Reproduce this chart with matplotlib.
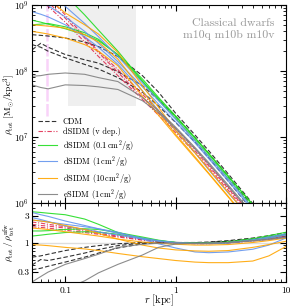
import numpy as np
import matplotlib
matplotlib.use("Agg")
import matplotlib.pyplot as plt
from matplotlib.ticker import FixedLocator, FixedFormatter, LogLocator, NullFormatter

plt.rcParams['font.family'] = ['cmr10', 'DejaVu Serif']
plt.rcParams['mathtext.fontset'] = 'cm'
plt.rcParams['axes.formatter.use_mathtext'] = True
plt.rcParams['axes.unicode_minus'] = False

# radii [kpc]
radius = [0.05, 0.06, 0.07, 0.1, 0.15, 0.2, 0.3, 0.5, 0.7, 1, 1.5, 2, 3, 5, 7, 10]

# top panel: log10 density [Msun/kpc^3], three haloes per model
logrho_cdm = [
    [8.55, 8.54, 8.53, 8.50, 8.44, 8.37, 8.22, 7.93, 7.68, 7.36, 7.03, 6.79, 6.44, 5.99, 5.69, 5.36],
    [8.32, 8.42, 8.36, 8.25, 8.17, 8.12, 7.99, 7.78, 7.56, 7.31, 6.99, 6.75, 6.40, 5.95, 5.65, 5.32],
    [8.40, 8.36, 8.30, 8.20, 8.10, 8.03, 7.90, 7.68, 7.47, 7.22, 6.92, 6.68, 6.33, 5.88, 5.58, 5.25],
]
logrho_vdep = [
    [9.35, 9.22, 9.12, 8.85, 8.52, 8.30, 8.02, 7.65, 7.40, 7.13, 6.82, 6.58, 6.24, 5.80, 5.50, 5.18],
    [9.25, 9.14, 9.04, 8.80, 8.50, 8.28, 7.98, 7.60, 7.36, 7.10, 6.79, 6.56, 6.22, 5.78, 5.48, 5.15],
    [9.20, 9.08, 8.98, 8.74, 8.44, 8.22, 7.93, 7.57, 7.33, 7.07, 6.76, 6.53, 6.19, 5.75, 5.45, 5.12],
]
logrho_d01 = [
    [9.65, 9.50, 9.38, 9.15, 8.85, 8.62, 8.30, 7.85, 7.58, 7.31, 6.98, 6.74, 6.40, 5.98, 5.68, 5.36],
    [8.77, 8.74, 8.71, 8.64, 8.55, 8.46, 8.25, 7.88, 7.60, 7.32, 6.99, 6.75, 6.41, 5.97, 5.67, 5.34],
    [8.70, 8.71, 8.72, 8.67, 8.58, 8.48, 8.24, 7.84, 7.56, 7.28, 6.95, 6.71, 6.37, 5.93, 5.63, 5.30],
]
logrho_d1 = [
    [9.35, 9.25, 9.17, 8.98, 8.72, 8.52, 8.22, 7.82, 7.55, 7.27, 6.94, 6.70, 6.36, 5.92, 5.62, 5.30],
    [9.15, 9.06, 8.99, 8.82, 8.60, 8.42, 8.14, 7.76, 7.50, 7.23, 6.91, 6.67, 6.33, 5.89, 5.59, 5.26],
    [8.90, 8.86, 8.82, 8.70, 8.52, 8.36, 8.10, 7.70, 7.40, 7.10, 6.76, 6.50, 6.15, 5.74, 5.47, 5.18],
]
logrho_d10 = [
    [8.70, 8.69, 8.68, 8.65, 8.55, 8.44, 8.18, 7.70, 7.38, 7.04, 6.70, 6.45, 6.10, 5.66, 5.36, 5.04],
    [9.30, 9.18, 9.10, 8.88, 8.70, 8.56, 8.28, 7.78, 7.45, 7.10, 6.76, 6.51, 6.16, 5.72, 5.42, 5.10],
    [8.60, 8.58, 8.56, 8.50, 8.40, 8.30, 8.08, 7.62, 7.33, 7.02, 6.68, 6.44, 6.09, 5.64, 5.34, 5.02],
]
logrho_e1 = [
    [7.92, 7.93, 7.95, 7.97, 7.95, 7.90, 7.84, 7.60, 7.40, 7.15, 6.84, 6.61, 6.27, 5.84, 5.54, 5.22],
    [7.79, 7.75, 7.73, 7.79, 7.78, 7.76, 7.72, 7.55, 7.37, 7.13, 6.82, 6.59, 6.25, 5.82, 5.52, 5.20],
]

# bottom panel: ratio to NFW fit
ratio_cdm = [
    [0.55, 0.58, 0.62, 0.72, 0.82, 0.88, 0.95, 1.00, 1.00, 1.00, 1.00, 1.02, 1.08, 1.20, 1.32, 1.50],
    [0.40, 0.50, 0.48, 0.55, 0.65, 0.75, 0.88, 0.98, 1.00, 1.00, 0.99, 1.00, 1.05, 1.15, 1.25, 1.40],
    [0.33, 0.35, 0.38, 0.45, 0.55, 0.65, 0.80, 0.95, 1.00, 1.00, 0.99, 1.00, 1.04, 1.12, 1.20, 1.30],
]
ratio_vdep = [
    [2.30, 2.20, 2.10, 1.90, 1.70, 1.55, 1.35, 1.15, 1.05, 1.00, 0.97, 0.97, 1.00, 1.10, 1.20, 1.35],
    [2.10, 2.00, 1.95, 1.80, 1.60, 1.45, 1.30, 1.12, 1.04, 0.98, 0.96, 0.96, 0.99, 1.08, 1.17, 1.30],
    [1.90, 1.85, 1.80, 1.65, 1.50, 1.40, 1.25, 1.10, 1.02, 0.97, 0.95, 0.95, 0.98, 1.06, 1.14, 1.25],
]
ratio_d01 = [
    [3.50, 3.40, 3.30, 3.10, 2.60, 2.10, 1.50, 1.18, 1.06, 1.00, 0.98, 0.98, 1.03, 1.17, 1.32, 1.52],
    [1.60, 1.60, 1.62, 1.70, 1.75, 1.70, 1.50, 1.25, 1.10, 1.00, 0.97, 0.97, 1.00, 1.12, 1.25, 1.42],
    [1.30, 1.35, 1.40, 1.50, 1.55, 1.52, 1.40, 1.20, 1.08, 1.00, 0.97, 0.97, 1.00, 1.10, 1.22, 1.38],
]
ratio_d1 = [
    [3.40, 3.10, 2.90, 2.40, 2.00, 1.75, 1.45, 1.20, 1.08, 1.00, 0.97, 0.97, 1.00, 1.12, 1.25, 1.42],
    [2.76, 2.55, 2.35, 1.95, 1.70, 1.55, 1.35, 1.15, 1.05, 0.98, 0.95, 0.95, 0.98, 1.08, 1.20, 1.35],
    [2.50, 2.40, 2.30, 2.10, 1.90, 1.75, 1.52, 1.15, 0.95, 0.80, 0.68, 0.66, 0.68, 0.76, 0.90, 1.20],
]
ratio_d10 = [
    [2.50, 2.40, 2.30, 2.00, 1.70, 1.45, 1.15, 0.90, 0.80, 0.74, 0.71, 0.70, 0.72, 0.82, 0.92, 1.05],
    [0.92, 0.90, 0.88, 0.82, 0.77, 0.72, 0.64, 0.56, 0.52, 0.48, 0.45, 0.44, 0.44, 0.47, 0.58, 0.85],
    [1.80, 1.75, 1.70, 1.55, 1.40, 1.30, 1.15, 1.02, 0.97, 0.93, 0.90, 0.90, 0.92, 1.00, 1.08, 1.20],
]
ratio_e1 = [
    [0.20, 0.25, 0.30, 0.41, 0.52, 0.62, 0.82, 0.93, 0.97, 0.98, 0.97, 0.97, 1.00, 1.08, 1.15, 1.25],
    [0.10, 0.11, 0.12, 0.15, 0.21, 0.29, 0.41, 0.60, 0.82, 0.94, 0.97, 0.97, 1.00, 1.07, 1.13, 1.23],
]

labels = ['CDM', 'dSIDM (v dep.)', r'dSIDM (0.1$\,$cm$^2$/g)', r'dSIDM (1$\,$cm$^2$/g)',
          r'dSIDM (10$\,$cm$^2$/g)', r'eSIDM (1$\,$cm$^2$/g)']
colors = ['black', 'crimson', '#22dd22', 'cornflowerblue', 'orange', 'grey']
styles = [(0, (4, 2)), (0, (4, 1.5, 1, 1.5)), '-', '-', '-', '-']
alphas = [0.8, 0.8, 0.9, 0.9, 0.9, 0.9]

top_sets = [logrho_cdm, logrho_vdep, logrho_d01, logrho_d1, logrho_d10, logrho_e1]
bot_sets = [ratio_cdm, ratio_vdep, ratio_d01, ratio_d1, ratio_d10, ratio_e1]

W, H = 293, 307
fig = plt.figure(figsize=(W / 100, H / 100), dpi=100)
ax1 = fig.add_axes([32/W, 1-203/H, 254/W, 198/H])
ax2 = fig.add_axes([32/W, 1-282/H, 254/W, 79/H])

r = np.array(radius)
# observational region and resolution marker
ax1.fill_between([0.107, 0.44], [3e7, 3e7], [1e9, 1e9], color='#efefef', lw=0, zorder=0)
ax1.plot([0.068, 0.068], [2.1e7, 1e9], color='violet', alpha=0.35, lw=1.8, ls=(0, (5, 1)), zorder=1)

for lab, c, s, a, ts, bs in zip(labels, colors, styles, alphas, top_sets, bot_sets):
    for i, prof in enumerate(ts):
        ax1.plot(r, 10**np.array(prof), color=c, ls=s, lw=0.8, alpha=a,
                 label=lab if i == 0 else None, zorder=2)
    for prof in bs:
        ax2.plot(r, prof, color=c, ls=s, lw=0.8, alpha=a, zorder=2)

ax2.axhline(1, color='#dddddd', lw=1, zorder=1)

for ax in (ax1, ax2):
    ax.set_xscale('log')
    ax.set_yscale('log')
    ax.set_xlim(0.05, 10)
    ax.tick_params(which='both', direction='in', top=True, right=True, labelsize=6.8)
    ax.tick_params(which='major', length=4.5, width=0.8)
    ax.tick_params(which='minor', length=2.3, width=0.6)
    ax.tick_params(axis='y', pad=2)
    for sp in ax.spines.values():
        sp.set_linewidth(0.8)

ax1.set_ylim(1e6, 1e9)
ax1.xaxis.set_major_formatter(NullFormatter())
ax1.xaxis.set_minor_formatter(NullFormatter())
ax1.set_yticks([1e6, 1e7, 1e8, 1e9])

ax2.set_ylim(0.2, 5)
ax2.yaxis.set_major_locator(FixedLocator([0.3, 1, 3]))
ax2.yaxis.set_major_formatter(FixedFormatter(['0.3', '1', '3']))
ax2.yaxis.set_minor_locator(LogLocator(subs=np.arange(2, 10)))
ax2.yaxis.set_minor_formatter(NullFormatter())
ax2.xaxis.set_major_locator(FixedLocator([0.1, 1, 10]))
ax2.xaxis.set_major_formatter(FixedFormatter(['0.1', '1', '10']))
ax2.xaxis.set_minor_formatter(NullFormatter())
ax2.set_xlabel(r'$r\ [{\rm kpc}]$', fontsize=7.5)
ax2.xaxis.set_label_coords(0.5, -0.13)

# y labels as figure texts, placed in the left margin
fig.text(1.5/W, 1-104/H, r'$\rho_{\rm tot}\ [{\rm M}_{\odot}/{\rm kpc}^3]$', rotation=90,
         ha='left', va='center', fontsize=6.8)
fig.text(1.5/W, 1-242/H, r'$\rho_{\rm tot}\,/\,\rho^{\rm nfw}_{\rm tot}$', rotation=90,
         ha='left', va='center', fontsize=6.8)

ax1.text(0.955, 0.93, 'Classical dwarfs\nm10q m10b m10v', transform=ax1.transAxes,
         ha='right', va='top', fontsize=8.5, color='#999999', linespacing=1.25)

leg = ax1.legend(loc='lower left', bbox_to_anchor=(0.0, -0.025), frameon=False, fontsize=6,
                 handlelength=2.3, handletextpad=0.7, labelspacing=0.18, borderaxespad=0.3)

fig.savefig('out.png', dpi=100)
